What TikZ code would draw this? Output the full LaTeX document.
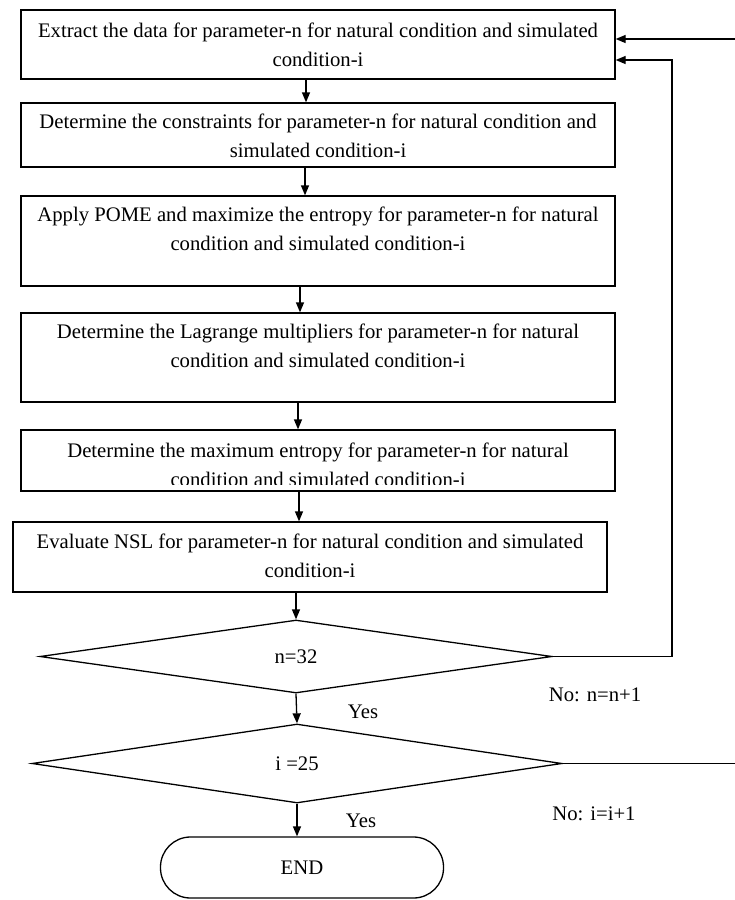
\documentclass[tikz,border=0pt]{standalone}
\usepackage{fontspec}
\setmainfont{Liberation Serif}
\usetikzlibrary{shapes.geometric,arrows.meta}
\begin{document}
\begin{tikzpicture}[x=1pt,y=-1pt,
  box/.style={draw, line width=1.3pt, minimum width=594pt, inner sep=0pt},
  txt/.style={align=center, font=\fontsize{20.7}{29}\selectfont, inner sep=0pt},
  dia/.style={draw, diamond, line width=1.3pt, inner sep=0pt, font=\fontsize{20.7}{24}\selectfont},
  endbox/.style={draw, line width=1.3pt, rounded corners=30pt, inner sep=0pt, minimum width=283pt, minimum height=61pt, font=\fontsize{20.7}{24}\selectfont},
  arr/.style={line width=1.3pt, -{Triangle[length=10pt,width=8pt]}},
  lbl/.style={anchor=base, inner sep=0pt, font=\fontsize{20.7}{24}\selectfont}]
\clip (0,0) rectangle (735,900);

% boxes
\node[box, minimum height=69pt] (b1) at (318,44.5) {};
\node[txt] (t1) at (318,44.5) {Extract the data for parameter-n for natural condition and simulated\\condition-i};

\node[box, minimum height=64pt] (b2) at (318,135) {};
\node[txt] (t2) at (318,136) {Determine the constraints for parameter-n for natural condition and\\simulated condition-i};

\node[box, minimum height=90pt] (b3) at (318,241) {};
\node[txt] (t3) at (318,229) {Apply POME and maximize the entropy for parameter-n for natural\\condition and simulated condition-i};

\node[box, minimum height=89pt] (b4) at (318,357.5) {};
\node[txt] (t4) at (318,345.5) {Determine the Lagrange multipliers for parameter-n for natural\\condition and simulated condition-i};

\node[box, minimum height=61pt] (b5) at (318,460.5) {};
\begin{scope}
\clip (0,430) rectangle (735,484);
\node[txt] (t5) at (318,464.5) {Determine the maximum entropy for parameter-n for natural\\condition and simulated condition-i};
\end{scope}

\node[box, minimum height=70pt] (b6) at (310,557) {};
\node[txt] (t6) at (310,556) {Evaluate NSL for parameter-n for natural condition and simulated\\condition-i};

% decisions
\node[dia, minimum width=512pt, minimum height=73pt] (d1) at (296,656.5) {n=32};
\node[dia, minimum width=530pt, minimum height=79pt] (d2) at (297,763.5) {i =25};
\node[endbox] (end) at (302,867.5) {END};

% arrows
\draw[arr] ([xshift=-12pt]b1.south) -- ([xshift=-12pt]b2.north);
\draw[arr] ([xshift=-13pt]b2.south) -- ([xshift=-13pt]b3.north);
\draw[arr] ([xshift=-18pt]b3.south) -- ([xshift=-18pt]b4.north);
\draw[arr] ([xshift=-20pt]b4.south) -- ([xshift=-20pt]b5.north);
\draw[arr] ([xshift=-19pt]b5.south) -- ([xshift=-11pt]b6.north);
\draw[arr] ([xshift=-14pt]b6.south) -- (d1.north);
\draw[arr] (d1.south) -- (d2.north);
\draw[arr] (d2.south) -- (d2.south |- end.north);

% loops
\coordinate (c1) at (672,656.5);
\coordinate (c2) at (745,763.5);
\draw[arr] (d1.east) -- (c1) |- ([yshift=-15.5pt]b1.east);
\draw[arr] (d2.east) -- (c2) |- ([yshift=5.5pt]b1.east);

% labels
\node[lbl] (y1) at (363,718) {Yes};
\node[lbl] (y2) at (361,827) {Yes};
\node[lbl] (n1) at (595,701) {No: n=n+1};
\node[lbl] (n2) at (594,820) {No: i=i+1};
\end{tikzpicture}
\end{document}
